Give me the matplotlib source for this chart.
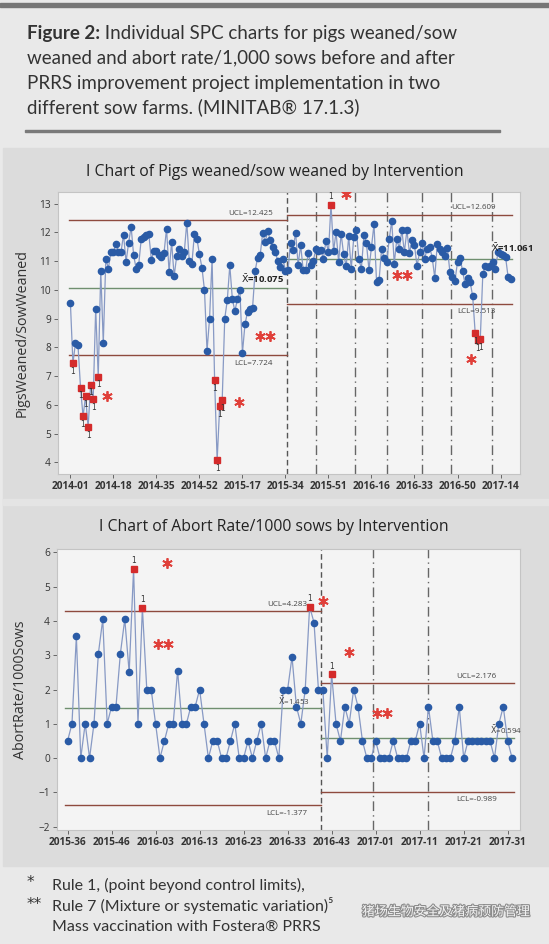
import matplotlib
matplotlib.use('Agg')
import matplotlib.pyplot as plt
from matplotlib.patches import Rectangle
import matplotlib.patheffects as pe

W, H = 549, 944

###
### Dados - grafico 1 (leitoes desmamados / porca)
###
pigs_phase1 = [9.55, 7.45, 8.15, 8.08, 6.60, 5.60, 6.30, 5.22, 6.70, 6.20,
               9.35, 6.98, 10.65, 8.15, 11.08, 10.74, 11.30, 11.30, 11.58, 11.31,
               11.31, 11.92, 10.97, 11.63, 12.19, 11.20, 10.73, 10.88, 11.77, 11.82,
               11.90, 11.93, 11.05, 11.34, 11.34, 11.20, 11.14, 11.28, 12.13, 10.62,
               11.66, 10.48, 11.16, 11.43, 11.16, 11.30, 12.34, 10.99, 10.89, 11.93,
               11.78, 11.23, 10.77, 9.98, 7.88, 9.00, 11.08, 6.85, 4.08, 5.95,
               6.17, 9.00, 9.63, 10.85, 9.69, 9.26, 9.67, 9.98, 7.81, 8.80,
               9.23, 9.35, 9.38, 10.65, 11.12, 11.20, 11.98, 11.66, 12.05, 11.72,
               11.49, 11.31, 11.00, 10.80, 11.06, 10.67]
pigs_phase2 = [10.68, 11.64, 11.40, 11.99, 10.87, 11.55, 10.70, 10.70, 11.28, 10.87,
               11.00, 11.43, 11.34, 11.37, 11.08, 11.70, 11.31, 12.96, 11.34, 12.01,
               10.97, 11.95, 11.23, 10.82, 11.86, 10.73, 11.82, 12.07, 11.08, 10.73,
               11.90, 11.62, 10.70, 11.49, 12.28, 10.27, 10.33, 11.43, 11.11, 10.97,
               11.75, 12.40, 10.91, 11.76, 11.43, 12.07, 11.31, 12.07, 11.28, 11.72,
               11.55, 10.82, 11.31, 11.63, 11.08, 11.43, 11.49, 11.12, 10.42, 11.60,
               11.43, 11.31, 11.16, 11.45, 10.62, 10.45, 10.31, 10.97, 11.11, 10.66,
               10.19, 10.42, 10.27, 9.77, 8.49, 8.24, 8.29, 10.55, 10.82, 10.79,
               10.82, 10.97, 10.73, 11.31, 11.26, 11.20, 11.14, 10.44, 10.38]
pigs_ticks = ['2014-01', '2014-18', '2014-35', '2014-52', '2015-17', '2015-34',
              '2015-51', '2016-16', '2016-33', '2016-50', '2017-14']
pigs_limits = [(12.425, 10.075, 7.724), (12.609, 11.061, 9.513)]
pigs_vacinas = [97.2, 112.6, 125.3, 139.1, 150.6, 166.8]

###
### Dados - grafico 2 (abortos / 1000 porcas)
###
abort_phase1 = [0.5, 1.0, 3.55, 0.0, 1.0, 0.0, 1.0, 3.05, 4.05, 1.0,
                1.5, 1.5, 3.05, 4.05, 2.5, 5.52, 1.0, 4.38, 2.0, 2.0,
                1.0, 0.0, 0.5, 1.0, 1.0, 2.55, 1.0, 1.0, 1.5, 1.5,
                2.0, 1.0, 0.0, 0.5, 0.5, 0.0, 0.0, 0.5, 1.0, 0.0,
                0.0, 0.5, 0.0, 0.5, 1.0, 0.0, 0.5, 0.5, 0.0, 2.0,
                2.0, 2.95, 1.5, 1.0, 2.0, 4.42, 3.95, 2.0]
abort_phase2 = [2.0, 0.0, 2.45, 1.0, 0.5, 1.5, 1.0, 2.0, 1.5, 0.5,
                0.0, 0.0, 0.5, 0.0, 0.0, 0.0, 0.5, 0.0, 0.0, 0.0,
                0.5, 0.5, 1.0, 0.0, 1.5, 0.5, 0.5, 0.0, 0.0, 0.0,
                0.5, 1.5, 0.0, 0.5, 0.5, 0.5, 0.5, 0.5, 0.5, 0.0,
                1.0, 1.5, 0.5, 0.0]
abort_ticks = ['2015-36', '2015-46', '2016-03', '2016-13', '2016-23', '2016-33',
               '2016-43', '2017-01', '2017-11', '2017-21', '2017-31']
abort_limits = [(4.283, 1.453, -1.377), (2.176, 0.594, -0.989)]
abort_vacinas = [69.3, 82.0]

# asteriscos vermelhos (regra 1 = '*', regra 7 = '**')
pigs_stars = [(14.4, 6.32, 1), (66.6, 6.11, 1), (76.9, 8.41, 2),
              (108.9, 13.32, 1), (131.0, 10.50, 2), (158.3, 7.58, 1)]
abort_stars = [(22.6, 5.69, 1), (21.7, 3.33, 2), (58.0, 4.58, 1),
               (63.9, 3.09, 1), (71.4, 1.31, 2)]

AZUL = '#2a5ba6'
LINHA = '#8799c4'
VERMELHO = '#d42b2b'
LIMITE = '#8e4a3e'
CENTRO = '#6f8f6f'


def fx(x):
    return x / W


def fy(y):
    return 1 - y / H


def ichart(ax, phases, limits, vacinas, ticks, tick_step, stars, star_dx,
           lab_pos, bold_center, cl_dy):
    start = 0
    bounds = []
    for k, vals in enumerate(phases):
        idx = list(range(start, start + len(vals)))
        ucl, cl, lcl = limits[k]
        x0, x1 = start - 0.5, start + len(vals) - 0.5
        ax.plot([x0, x1], [ucl, ucl], color=LIMITE, lw=1.0, zorder=2)
        ax.plot([x0, x1], [lcl, lcl], color=LIMITE, lw=1.0, zorder=2)
        ax.plot([x0, x1], [cl, cl], color=CENTRO, lw=1.0, zorder=2)
        ax.plot(idx, vals, color=LINHA, lw=0.9, zorder=3)
        ok = [(i, v) for i, v in zip(idx, vals) if lcl <= v <= ucl]
        out = [(i, v) for i, v in zip(idx, vals) if v > ucl or v < lcl]
        ax.plot([p[0] for p in ok], [p[1] for p in ok], 'o', color=AZUL,
                ms=4.5, mec=AZUL, zorder=4)
        ax.plot([p[0] for p in out], [p[1] for p in out], 's', color=VERMELHO,
                ms=4.4, mec=VERMELHO, zorder=5)
        for i, v in out:
            dy = 8 if v > ucl else -8
            ax.annotate('1', (i, v), xytext=(0, dy), textcoords='offset pixels',
                        ha='center', va='center', fontsize=5.5, color='#333',
                        zorder=6)
        # rotulos dos limites
        xr, xc = lab_pos[k]
        ax.annotate('UCL=%g' % ucl, (xr, ucl), xytext=(0, 7), textcoords='offset pixels',
                    ha='right', va='center', fontsize=5.8, color='#444',
                    family='Open Sans', annotation_clip=False, zorder=7)
        ax.annotate('LCL=%g' % lcl, (xr, lcl), xytext=(0, -8), textcoords='offset pixels',
                    ha='right', va='center', fontsize=5.8, color='#444',
                    family='Open Sans', annotation_clip=False, zorder=7)
        ax.annotate(r'$\bar{\mathrm{X}}$=%g' % cl, (xc, cl), xytext=(0, cl_dy[k]),
                    textcoords='offset pixels', ha='right', va='center',
                    fontsize=6.8 if bold_center else 5.8,
                    fontweight='bold' if bold_center else 'normal',
                    color='#222' if bold_center else '#444',
                    family='Open Sans', annotation_clip=False, zorder=7)
        start += len(vals)
        bounds.append(start - 0.5)
    ax.axvline(bounds[0], color='#555', lw=1.0, ls=(0, (4, 2.5)), zorder=1)
    for v in vacinas:
        ax.axvline(v, color='#666', lw=1.0, ls=(0, (7, 3, 1, 3)), zorder=1)
    for x, y, n in stars:
        xs = [x] if n == 1 else [x - star_dx, x + star_dx]
        ax.plot(xs, [y] * len(xs), ls='none', marker=(6, 2, 0), ms=7.5,
                mew=1.3, color='#e0403a', zorder=6)
    ax.set_xticks(range(0, tick_step * len(ticks), tick_step))
    ax.set_xticklabels(ticks, fontsize=6.6, fontweight='bold', color='#333',
                       family='Open Sans')
    ax.set_facecolor('#f4f4f4')
    for s in ax.spines.values():
        s.set_color('#c4c4c4')
        s.set_linewidth(0.8)
    ax.tick_params(length=3, width=0.7, color='#666', labelsize=7.3, labelcolor='#333',
                   pad=2)
    for lab in ax.get_yticklabels():
        lab.set_family('Open Sans')


fig = plt.figure(figsize=(W / 100, H / 100), dpi=100)
fig.patch.set_facecolor('#e9e9e9')

# faixas de fundo (atras dos graficos)
fundo = [((0, 3), (549, 4), '#767676'),
         ((25, 130), (475, 2), '#7a7a7a'),
         ((3, 148), (546, 718), '#dcdcdc'),
         ((3, 499), (546, 6), '#e4e4e4')]
for (x, y), (w, h), cor in fundo:
    fig.patches.append(Rectangle((fx(x), fy(y + h)), w / W, h / H,
                                 transform=fig.transFigure, color=cor, zorder=-5))

# legenda da figura
legenda = ['Individual SPC charts for pigs weaned/sow',
           'weaned and abort rate/1,000 sows before and after',
           'PRRS improvement project implementation in two',
           'different sow farms. (MINITAB\u00ae 17.1.3)']
linhas_y = [33, 58, 83, 107]
r = fig.canvas.get_renderer()
t = fig.text(fx(27), fy(linhas_y[0]), 'Figure 2:', fontsize=13.5, fontweight='bold',
             family='Lato', color='#333', va='center')
bb = t.get_window_extent(r)
fig.text(bb.x1 / W, fy(linhas_y[0]), ' ' + legenda[0], fontsize=13.5, family='Lato',
         color='#333', va='center')
for txt, y in zip(legenda[1:], linhas_y[1:]):
    fig.text(fx(27), fy(y), txt, fontsize=13.5, family='Lato', color='#333', va='center')

# grafico 1
ax1 = fig.add_axes([fx(58), fy(474), 462 / W, 282 / H])
ichart(ax1, [pigs_phase1, pigs_phase2], pigs_limits, pigs_vacinas, pigs_ticks, 17,
       pigs_stars, 2.0, [(80, 84.5), (168, 183)], True, [9, 12])
ax1.set_xlim(-4.9, 177.7)
ax1.set_ylim(3.6, 13.4)
ax1.set_yticks(range(4, 14))
ax1.set_ylabel('PigsWeaned/SowWeaned', fontsize=10.3, color='#333', family='Open Sans')
ax1.yaxis.set_label_coords(-0.062, 0.5)
fig.text(fx(275), fy(172), 'I Chart of Pigs weaned/sow weaned by Intervention',
         ha='center', va='center', fontsize=11.3, color='#222', family='Open Sans')

# grafico 2
ax2 = fig.add_axes([fx(57), fy(830), 463 / W, 281 / H])
ichart(ax2, [abort_phase1, abort_phase2], abort_limits, abort_vacinas, abort_ticks, 10,
       abort_stars, 1.15, [(54.5, 55), (97.5, 103.3)], False, [8, 8])
ax2.set_xlim(-2.4, 102.8)
ax2.set_ylim(-2.1, 6.1)
ax2.set_yticks(range(-2, 7))
ax2.set_ylabel('AbortRate/1000Sows', fontsize=10.3, color='#333', family='Open Sans')
ax2.yaxis.set_label_coords(-0.062, 0.5)
fig.text(fx(274), fy(527), 'I Chart of Abort Rate/1000 sows by Intervention',
         ha='center', va='center', fontsize=11.3, color='#222', family='Open Sans')

# notas de rodape
notas = ['Rule 1, (point beyond control limits),',
         'Rule 7 (Mixture or systematic variation)\u2075',
         'Mass vaccination with Fostera\u00ae PRRS']
marcas = ['*', '**', '']
notas_y = [885, 906, 927]
for m, txt, y in zip(marcas, notas, notas_y):
    fig.text(fx(27), fy(y - 2), m, ha='left', va='center', fontsize=11,
             family='DejaVu Sans', color='#333')
    fig.text(fx(52), fy(y), txt, va='center', fontsize=11.5,
             family=['Lato', 'DejaVu Sans'], color='#333')

fig.text(fx(362), fy(912), '猪场生物安全及猪病预防管理', va='center', fontsize=9.3,
         family=['Noto Sans CJK SC', 'DejaVu Sans'], color='#f4f4f4',
         path_effects=[pe.withStroke(linewidth=1.6, foreground='#8c8c8c')])

fig.savefig('out.png', dpi=100, facecolor=fig.get_facecolor())
